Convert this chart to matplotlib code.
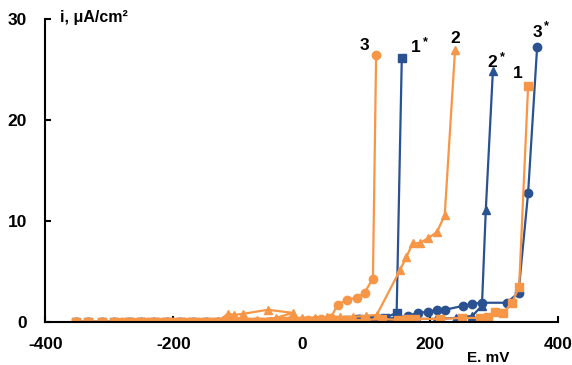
import matplotlib
matplotlib.use("Agg")
import matplotlib.pyplot as plt

plt.rcParams['font.family'] = ['Liberation Sans', 'DejaVu Sans']
plt.rcParams['font.weight'] = 'bold'
plt.rcParams['axes.unicode_minus'] = False

ORANGE = '#F79646'
BLUE = '#2A5191'

# Curve 1 (orange squares)
e1 = [-352, -334, -312, -292, -280, -270, -260, -250, -240, -230, -220, -210, -200, -190, -180, -170,
      -160, -150, -140, -130, -120, -110, -100, -90, -80, -70, -60, -50, -40, -30, -20, -10, 0,
      10, 30, 50, 70, 98, 125, 150, 164, 177, 216, 250, 278, 291, 302, 314, 328, 339, 353]
i1 = [0, 0, 0, 0, 0, 0, 0, 0, 0, 0, 0, 0, 0, 0, 0, 0,
      0, 0, 0, 0, 0, 0, 0, 0, 0, 0, 0, 0, 0, 0.1, 0.1, 0.1, 0.1,
      0.1, 0.1, 0.2, 0.2, 0.2, 0.3, 0.2, 0.3, 0.3, 0.3, 0.4, 0.4, 0.5, 1.0, 0.9, 1.9, 3.5, 23.4]

# Curve 1* (blue squares)
e1s = [-352, -334, -312, -292, -270, -250, -230, -210, -190, -170, -150, -130, -110, -90, -70,
       -50, -30, -10, 10, 30, 50, 70, 90, 110, 130, 148, 156]
i1s = [0, 0, 0, 0, 0, 0, 0, 0, 0, 0, 0, 0, 0, 0, 0,
       0, 0, 0, 0, 0.1, 0.1, 0.2, 0.3, 0.3, 0.4, 0.9, 26.1]

# Curve 2 (orange triangles)
e2 = [-352, -334, -312, -292, -280, -270, -260, -250, -240, -230, -220, -210, -200, -190, -180,
      -170, -160, -150, -140, -130, -115, -105, -92,
      -53, -14, -40, -70, -100, 0, 20, 40, 60, 80, 100, 117, 153, 163, 173, 184, 197, 211, 223, 239]
i2 = [0, 0, 0, 0, 0, 0, 0, 0, 0, 0, 0, 0, 0, 0, 0,
      0, 0, 0, 0, 0.1, 0.8, 0.7, 0.8,
      1.2, 0.9, 0.4, 0.2, 0.1, 0.4, 0.4, 0.5, 0.5, 0.5, 0.6, 0.7, 5.1, 6.4, 7.8, 7.8, 8.3, 8.9, 10.6, 26.9]

# Curve 2* (blue triangles)
e2s = [-352, -334, -312, -292, -270, -250, -230, -210, -190, -170, -150, -130, -110, -90, -70,
       -50, -30, -10, 10, 30, 60, 90, 120, 150, 180, 210, 240, 266, 281, 287, 298]
i2s = [0, 0, 0, 0, 0, 0, 0, 0, 0, 0, 0, 0, 0, 0, 0,
       0, 0, 0, 0, 0.1, 0.1, 0.1, 0.2, 0.2, 0.3, 0.3, 0.4, 0.6, 1.6, 11.1, 24.8]

# Curve 3 (orange circles)
e3 = [-352, -334, -312, -292, -280, -272, -264, -256, -248, -240, -232, -224, -216, -208, -200,
      -192, -184, -176, -168, -160, -150, -140, -130, -120, -110, -100, -90, -80, -70,
      -60, -50, -40, -30, -20, -10, 0, 10, 20, 30, 45, 56, 70, 86, 98, 111, 116]
i3 = [0, 0, 0, 0, 0, 0, 0, 0, 0, 0, 0, 0, 0, 0, 0,
      0, 0, 0, 0, 0, 0, 0, 0, 0, 0, 0, 0, 0, 0,
      0, 0, 0, 0.1, 0.1, 0.1, 0.1, 0.2, 0.2, 0.3, 0.4, 1.7, 2.2, 2.4, 2.9, 4.3, 26.4]

# Curve 3* (blue circles)
e3s = [-352, -334, -312, -292, -270, -250, -230, -210, -190, -170, -150, -130, -110, -90, -70,
       -50, -30, -10, 10, 30, 60, 90, 120, 150, 165, 181, 197, 211, 223, 252, 266, 281, 320, 338, 353, 367]
i3s = [0, 0, 0, 0, 0, 0, 0, 0, 0, 0, 0, 0, 0, 0, 0,
       0, 0, 0, 0.1, 0.1, 0.2, 0.3, 0.3, 0.4, 0.6, 0.9, 1.0, 1.2, 1.2, 1.6, 1.8, 1.9, 1.9, 2.9, 12.8, 27.2]

curve_labels = ['3', '1', '2', '2', '1', '3']
curve_stars = ['', '*', '', '*', '', '*']
label_e = [98, 178, 239, 297, 337, 367]
label_i = [27.4, 27.2, 28.1, 25.7, 24.6, 28.7]

fig = plt.figure(figsize=(5.72, 3.65), dpi=100)
ax = fig.add_axes([0.079, 0.118, 0.897, 0.83])

ms = 6
lw = 1.6
ax.plot(e1s, i1s, color=BLUE, marker='s', ms=ms, lw=lw)
ax.plot(e2s, i2s, color=BLUE, marker='^', ms=ms, lw=lw)
ax.plot(e3s, i3s, color=BLUE, marker='o', ms=ms, lw=lw)
ax.plot(e1, i1, color=ORANGE, marker='s', ms=ms, lw=lw)
ax.plot(e2, i2, color=ORANGE, marker='^', ms=ms, lw=lw)
ax.plot(e3, i3, color=ORANGE, marker='o', ms=ms, lw=lw)

for lab, star, x, y in zip(curve_labels, curve_stars, label_e, label_i):
    ax.text(x, y, lab, fontsize=12.5, fontweight='bold', ha='center', va='center')
    if star:
        ax.annotate(star, (x, y), xytext=(7, 4), textcoords='offset points',
                    fontsize=9, fontweight='bold', ha='center', va='center')

ax.set_xlim(-400, 400)
ax.set_ylim(0, 30)
ax.set_xticks([-400, -200, 0, 200, 400])
ax.set_yticks([0, 10, 20, 30])
ax.spines['top'].set_visible(False)
ax.spines['right'].set_visible(False)
ax.spines['left'].set_linewidth(1.5)
ax.spines['bottom'].set_linewidth(1.5)
ax.tick_params(direction='in', length=4, width=1.5, labelsize=12.5)
ax.tick_params(axis='x', pad=11)
ax.tick_params(axis='y', pad=13)
for t in ax.get_xticklabels() + ax.get_yticklabels():
    t.set_fontweight('bold')

fig.text(0.105, 0.952, 'i, \u03bcA/cm\u00b2', fontsize=11.5, fontweight='bold', ha='left', va='center')
fig.text(0.816, 0.02, 'E. mV', fontsize=11, fontweight='bold', ha='left', va='center')

fig.savefig('out.png', dpi=100)
